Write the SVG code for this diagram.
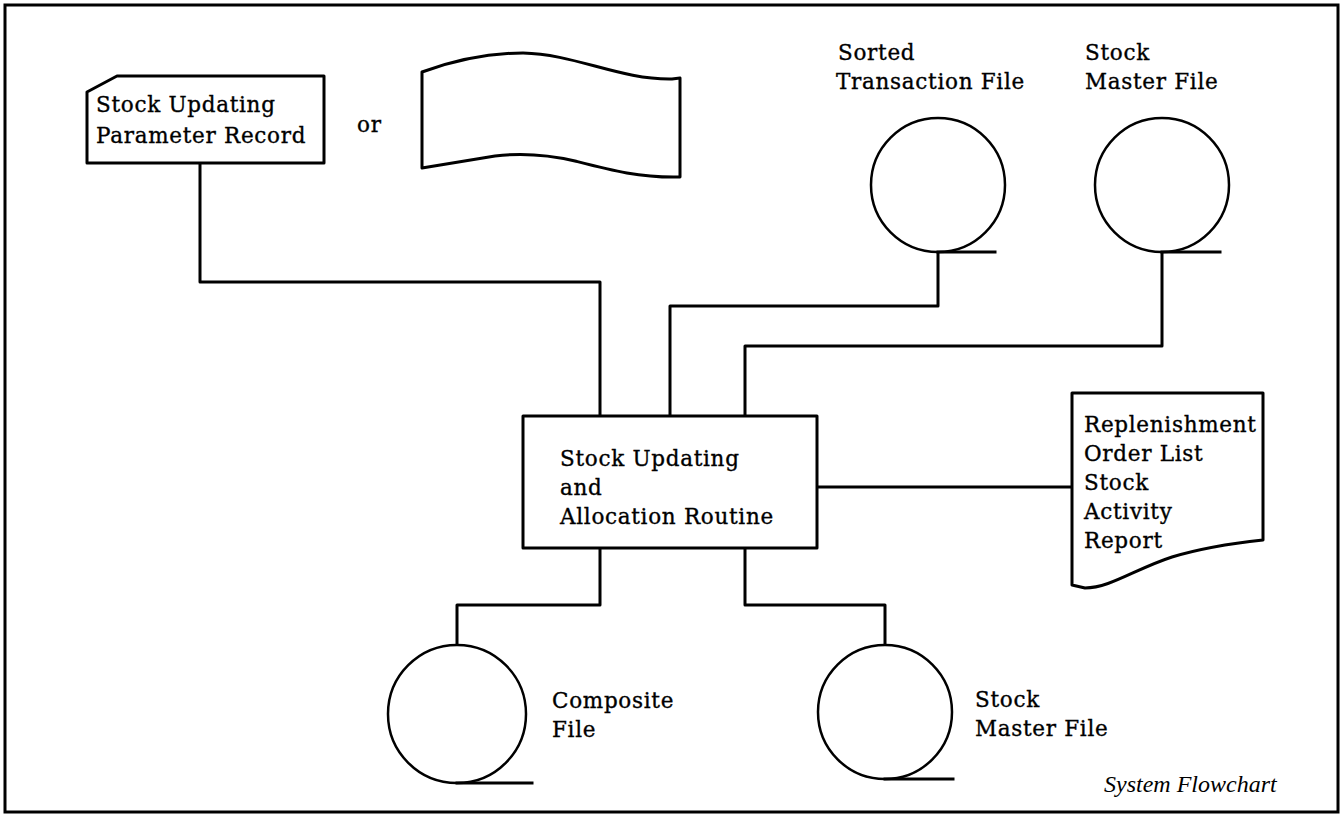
<svg xmlns="http://www.w3.org/2000/svg" width="1344" height="819" viewBox="0 0 1344 819">
<style>
.s{fill:none;stroke:#000;stroke-width:3;stroke-linejoin:round;stroke-linecap:square}
.f{fill:#fff;stroke:#000;stroke-width:3;stroke-linejoin:round}
.c{fill:#fff;stroke:#000;stroke-width:2.5}
.t{font-family:"DejaVu Serif","Liberation Serif",serif;font-size:21.5px;fill:#000;stroke:#000;stroke-width:0.35;letter-spacing:0.7px}
.i{font-family:"Liberation Serif",serif;font-style:italic;font-size:24px;fill:#000}
</style>
<rect x="0" y="0" width="1344" height="819" fill="#fff"/>
<rect id="frame" x="5" y="5" width="1333" height="807" fill="none" stroke="#000" stroke-width="3"/>
<g id="connectors" class="s">
<polyline points="200,163 200,282 600,282 600,416"/>
<polyline points="938,252 938,306 670,306 670,416"/>
<polyline points="1162,252 1162,346 745,346 745,416"/>
<polyline points="817,487 1072,487"/>
<polyline points="600,548 600,605 457,605 457,645"/>
<polyline points="745,548 745,605 885,605 885,645"/>
</g>
<g id="card">
<path class="f" d="M117,76 L324,76 L324,163 L87,163 L87,92 Z"/>
<text class="t" x="96" y="112">Stock Updating</text>
<text class="t" x="96" y="143">Parameter Record</text>
</g>
<text id="or" class="t" x="357" y="132">or</text>
<g id="tape">
<path class="f" d="M422,72 C455,60 490,53 523,53 C575,54 620,80 672,79 L680,78 L680,177 C640,178 610,170 575,161 C545,154 520,153 495,156 C470,160 445,164 422,168 Z"/>
</g>
<g id="sorted-file">
<circle class="c" cx="938" cy="185" r="67"/>
<line class="s" x1="938" y1="252" x2="995" y2="252"/>
<text class="t" x="838" y="60">Sorted</text>
<text class="t" x="836" y="89">Transaction File</text>
</g>
<g id="stock-master-in">
<circle class="c" cx="1162" cy="185" r="67"/>
<line class="s" x1="1162" y1="252" x2="1220" y2="252"/>
<text class="t" x="1085" y="60">Stock</text>
<text class="t" x="1085" y="89">Master File</text>
</g>
<g id="routine">
<rect class="f" x="523" y="416" width="294" height="132"/>
<text class="t" x="560" y="466">Stock Updating</text>
<text class="t" x="560" y="495">and</text>
<text class="t" x="560" y="524">Allocation Routine</text>
</g>
<g id="report">
<path class="f" d="M1072,393 L1263,393 L1263,540 C1235,543 1205,547 1172,557 C1135,569 1110,588 1085,588 L1072,585 Z"/>
<text class="t" x="1084" y="432">Replenishment</text>
<text class="t" x="1084" y="461">Order List</text>
<text class="t" x="1084" y="490">Stock</text>
<text class="t" x="1084" y="519">Activity</text>
<text class="t" x="1084" y="548">Report</text>
</g>
<g id="composite-file">
<circle class="c" cx="457" cy="714" r="69"/>
<line class="s" x1="457" y1="783" x2="532" y2="783"/>
<text class="t" x="552" y="708">Composite</text>
<text class="t" x="552" y="737">File</text>
</g>
<g id="stock-master-out">
<circle class="c" cx="885" cy="712" r="67"/>
<line class="s" x1="885" y1="779" x2="953" y2="779"/>
<text class="t" x="975" y="707">Stock</text>
<text class="t" x="975" y="736">Master File</text>
</g>
<text id="caption" class="i" x="1104" y="792">System Flowchart</text>
</svg>
